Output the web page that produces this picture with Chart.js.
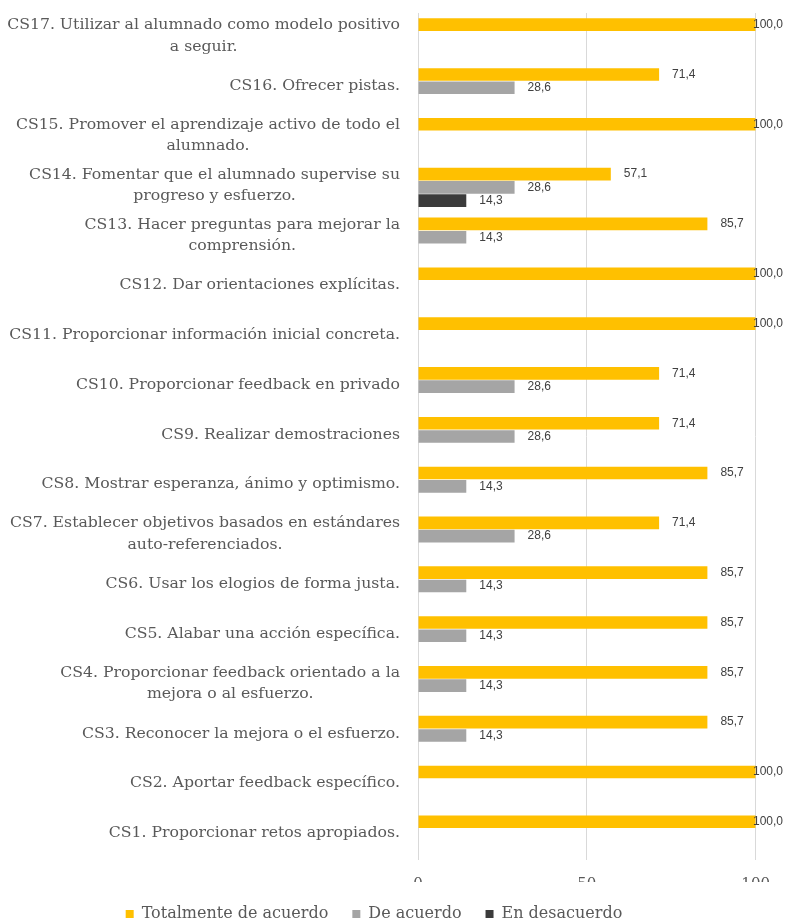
<!DOCTYPE html>
<html>
<head>
<meta charset="utf-8">
<script src="https://cdn.jsdelivr.net/npm/chart.js@4.4.0/dist/chart.umd.min.js"></script>
<style>
  html, body { margin: 0; padding: 0; background: #fff; }
  #wrap { width: 785px; height: 922px; position: relative; }
</style>
</head>
<body>
<div id="wrap"><canvas id="stratChart"></canvas></div>
<script>
// categories, top to bottom
const labels = [
  ['CS17. Utilizar al alumnado como modelo positivo', 'a seguir.'],
  ['CS16. Ofrecer pistas.'],
  ['CS15. Promover el aprendizaje activo de todo el', 'alumnado.'],
  ['CS14. Fomentar que el alumnado supervise su', 'progreso y esfuerzo.'],
  ['CS13. Hacer preguntas para mejorar la', 'comprensión.'],
  ['CS12. Dar orientaciones explícitas.'],
  ['CS11. Proporcionar información inicial concreta.'],
  ['CS10. Proporcionar feedback en privado'],
  ['CS9. Realizar demostraciones'],
  ['CS8. Mostrar esperanza, ánimo y optimismo.'],
  ['CS7. Establecer objetivos basados en estándares', 'auto-referenciados.'],
  ['CS6. Usar los elogios de forma justa.'],
  ['CS5. Alabar una acción específica.'],
  ['CS4. Proporcionar feedback orientado a la', 'mejora o al esfuerzo.'],
  ['CS3. Reconocer la mejora o el esfuerzo.'],
  ['CS2. Aportar feedback específico.'],
  ['CS1. Proporcionar retos apropiados.']
];

const totalmente = [100, 71.4, 100, 57.1, 85.7, 100, 100, 71.4, 71.4, 85.7, 71.4, 85.7, 85.7, 85.7, 85.7, 100, 100];
const deAcuerdo = [null, 28.6, null, 28.6, 14.3, null, null, 28.6, 28.6, 14.3, 28.6, 14.3, 14.3, 14.3, 14.3, null, null];
const enDesacuerdo = [null, null, null, 14.3, null, null, null, null, null, null, null, null, null, null, null, null, null];

const xTicks = [0, 50, 100];

const textGray = '#595959';
const serif = "'DejaVu Serif', serif";

// y labels: block right aligned, lines centred on each other
const yLabelPlugin = {
  id: 'yLabels',
  afterDraw(chart) {
    const ctx = chart.ctx;
    const scale = chart.scales.y;
    const rightEdge = chart.chartArea.left - 18;
    const lineH = 21.5;
    ctx.save();
    ctx.font = '15.7px ' + serif;
    ctx.fillStyle = textGray;
    ctx.textAlign = 'center';
    ctx.textBaseline = 'middle';
    labels.forEach((lines, i) => {
      const y = scale.getPixelForTick(i) - 2;
      const w = Math.max(...lines.map(l => ctx.measureText(l).width));
      const cx = rightEdge - w / 2;
      const y0 = y - (lines.length - 1) * lineH / 2;
      lines.forEach((l, j) => ctx.fillText(l, cx, y0 + j * lineH));
    });
    ctx.restore();
  }
};

// value labels next to the bars
const valueLabelPlugin = {
  id: 'valueLabels',
  afterDatasetsDraw(chart) {
    const ctx = chart.ctx;
    ctx.save();
    ctx.font = "12px 'Liberation Sans', sans-serif";
    ctx.fillStyle = '#404040';
    ctx.textAlign = 'left';
    ctx.textBaseline = 'middle';
    chart.data.datasets.forEach((ds, di) => {
      const meta = chart.getDatasetMeta(di);
      meta.data.forEach((bar, i) => {
        const v = ds.data[i];
        if (v === null || v === undefined) return;
        const txt = v.toFixed(1).replace('.', ',');
        const w = ctx.measureText(txt).width;
        let x = bar.x + 13;
        if (x + w > chart.width - 2) x = chart.width - 2 - w;
        ctx.fillText(txt, x, bar.y);
      });
    });
    ctx.restore();
  }
};

// the legend in the original sits a little left of centre
const legendShift = {
  id: 'legendShift',
  afterLayout(chart) {
    chart.legend.left -= 4;
    chart.legend.right -= 4;
  }
};

const data = {
  labels: labels.map(l => l.join(' ')),
  datasets: [{
      label: 'Totalmente de acuerdo',
      data: totalmente,
      backgroundColor: '#FFC000',
      categoryPercentage: 0.8,
      barPercentage: 0.95
    },
    {
      label: 'De acuerdo',
      data: deAcuerdo,
      backgroundColor: '#A5A5A5',
      categoryPercentage: 0.8,
      barPercentage: 0.95
    },
    {
      label: 'En desacuerdo',
      data: enDesacuerdo,
      backgroundColor: '#3B3B3B',
      categoryPercentage: 0.8,
      barPercentage: 0.95
    }
  ]
};

const config = {
  type: 'bar',
  data,
  options: {
    indexAxis: 'y',
    responsive: true,
    maintainAspectRatio: false,
    animation: false,
    layout: {
      padding: { top: 13, right: 29, bottom: -10, left: 0 }
    },
    scales: {
      x: {
        min: 0,
        max: 100,
        afterBuildTicks: (scale) => {
          scale.ticks = xTicks.map(v => ({ value: v }));
        },
        afterFit: (scale) => { scale.height = 22; },
        grid: {
          color: '#D9D9D9',
          drawTicks: false
        },
        border: { display: false },
        ticks: {
          padding: 15,
          color: textGray,
          font: { family: serif, size: 15 }
        }
      },
      y: {
        afterFit: (scale) => { scale.width = 418; },
        grid: { display: false },
        border: { display: false },
        ticks: { display: false }
      }
    },
    plugins: {
      legend: {
        position: 'bottom',
        labels: {
          boxWidth: 8,
          boxHeight: 8,
          padding: 24,
          color: textGray,
          font: { family: serif, size: 16 }
        }
      },
      tooltip: { enabled: false }
    }
  },
  plugins: [yLabelPlugin, valueLabelPlugin, legendShift]
};

const stratChart = new Chart(document.getElementById('stratChart'), config);
</script>
</body>
</html>
